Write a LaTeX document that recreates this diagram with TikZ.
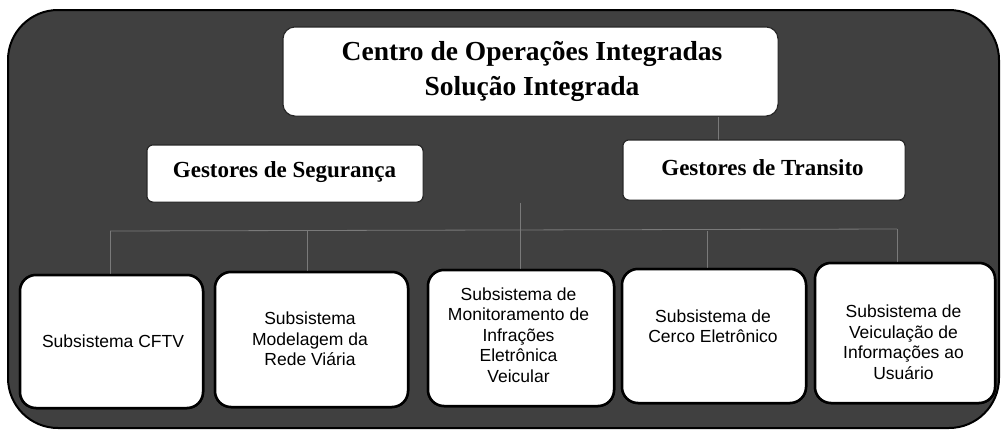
\documentclass[tikz,border=0pt]{standalone}
\usepackage{fontspec}
\newfontfamily\serifb{Liberation Serif}
\newfontfamily\sansf{Liberation Sans}
\begin{document}
\begin{tikzpicture}[x=1pt,y=-1pt,
  outerbox/.style={draw=black,line width=2pt,fill=black!75,rounded corners=50pt},
  topbox/.style={draw=black!85,fill=white,line width=1pt,rounded corners=12pt,inner sep=0pt},
  gbox/.style={draw=black!85,fill=white,line width=1pt,rounded corners=6pt,inner sep=0pt},
  subbox/.style={draw=black,fill=white,line width=2.5pt,rounded corners=16pt,inner sep=0pt},
  toptxt/.style={align=center,font=\serifb\bfseries\fontsize{27.5}{35}\selectfont,inner sep=0pt},
  gtxt/.style={font=\serifb\bfseries\fontsize{23}{26}\selectfont,inner sep=0pt},
  subtxt/.style={align=center,font=\sansf\fontsize{17.5}{20.5}\selectfont,inner sep=0pt},
  faint/.style={draw=black!52,line width=0.8pt}
]
\useasboundingbox (0,0) rectangle (1002,431);
\fill[white] (0,0) rectangle (1002,431);
\path[outerbox] (8,10) rectangle (999,428);

% boxes (first pass, for anchors)
\coordinate (bus1) at (110,231);
\coordinate (bus2) at (897,229);
\node[topbox,minimum width=495pt,minimum height=89pt] (top) at (530.5,71.5) {};
\node[gbox,minimum width=276pt,minimum height=57pt] (gs) at (285,173.5) {};
\node[gbox,minimum width=282pt,minimum height=60pt] (gt) at (764,170) {};
\node[subbox,minimum width=183pt,minimum height=133pt] (b1) at (111.5,341.5) {};
\node[subbox,minimum width=193pt,minimum height=135pt] (b2) at (311.5,339.5) {};
\node[subbox,minimum width=186pt,minimum height=136pt] (b3) at (521,338) {};
\node[subbox,minimum width=184pt,minimum height=134pt] (b4) at (714,336) {};
\node[subbox,minimum width=180pt,minimum height=140pt] (b5) at (905,333) {};

% faint connectors
\draw[faint] (top.south -| 718,0) -- (gt.north -| 718,0);
\draw[faint] (bus1) -- (bus2);
\draw[faint] (bus1) -- (b1.north -| bus1);
\draw[faint] (bus1 -| 307,0) -- (b2.north -| 307,0);
\draw[faint] (gs.south -| 520,0) -- (b3.north -| 520,0);
\draw[faint] (bus1 -| 707,0) -- (b4.north -| 707,0);
\draw[faint] (bus2) -- (b5.north -| bus2);

% redraw boxes on top of connectors
\node[topbox,minimum width=495pt,minimum height=89pt] at (top) {};
\node[subbox,minimum width=183pt,minimum height=133pt] at (b1) {};
\node[subbox,minimum width=193pt,minimum height=135pt] at (b2) {};
\node[subbox,minimum width=186pt,minimum height=136pt] at (b3) {};
\node[subbox,minimum width=184pt,minimum height=134pt] at (b4) {};
\node[subbox,minimum width=180pt,minimum height=140pt] at (b5) {};
\node[gbox,minimum width=276pt,minimum height=57pt] at (gs) {};
\node[gbox,minimum width=282pt,minimum height=60pt] at (gt) {};

% texts
\node[toptxt] (ttop) at (532,71) {Centro de Operações Integradas\\Solução Integrada};
\node[gtxt] (tgs) at (284.5,172) {Gestores de Segurança};
\node[gtxt] (tgt) at (762.5,168) {Gestores de Transito};
\node[subtxt] (t1) at (113,341) {Subsistema CFTV};
\node[subtxt] (t2) at (310,339) {Subsistema\\Modelagem da\\Rede Viária};
\node[subtxt] (t3) at (518.5,335) {Subsistema de\\Monitoramento de\\Infrações\\Eletrônica\\Veicular};
\node[subtxt] (t4) at (713,326) {Subsistema de\\Cerco Eletrônico};
\node[subtxt] (t5) at (903.5,342) {Subsistema de\\Veiculação de\\Informações ao\\Usuário};
\end{tikzpicture}
\end{document}
